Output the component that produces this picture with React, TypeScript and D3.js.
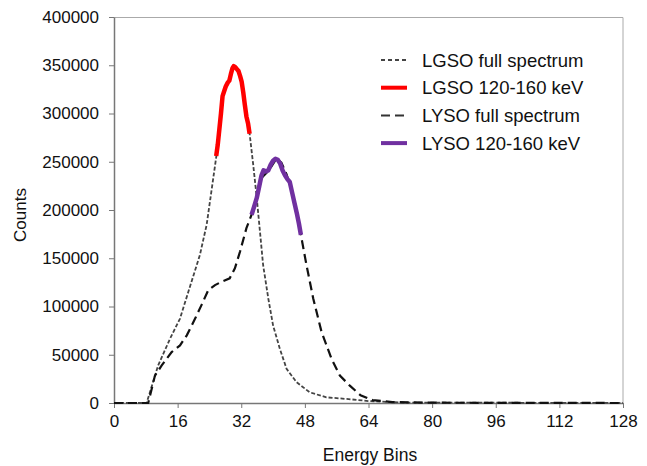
import React, { useEffect, useRef } from 'react';
import * as d3 from 'd3';

// LGSO full spectrum (bin, counts)
const lgsoBins = [0, 8.2, 11.1, 14.1, 16.6, 18.7, 21.6, 23.3, 24.5, 25.8, 27.4, 28.7, 30.0, 31.2, 32.0, 33.3, 34.1, 35.0, 35.9, 36.7, 37.5, 38.8, 40.0, 41.7, 43.4, 45.9, 49.2, 53.4, 58.5, 64, 72, 128];
const lgsoCounts = [0, 0, 38900, 66700, 87500, 115300, 153400, 184700, 219500, 257600, 320600, 331000, 348200, 344800, 334400, 296400, 279200, 247200, 212500, 177800, 143000, 108300, 80500, 56300, 35400, 21600, 11100, 5900, 4200, 2000, 500, 0];

// LGSO 120-160 keV window
const lgsoWinBins = [25.7, 26.1, 26.5, 26.9, 27.3, 27.7, 28.1, 28.6, 29.0, 29.4, 29.8, 30.1, 30.5, 30.9, 31.3, 31.7, 32.1, 32.5, 32.9, 33.3, 33.7, 34.1];
const lgsoWinCounts = [256000, 268000, 284000, 300000, 318000, 323000, 328000, 332000, 334000, 341000, 347000, 349000, 348000, 346000, 344000, 339000, 333000, 322000, 309000, 297000, 290000, 279000];

// LYSO full spectrum
const lysoBins = [0, 8.6, 10.3, 12.0, 14.5, 16.6, 18.3, 20.4, 22.0, 23.7, 25.4, 27.1, 29.1, 30.4, 31.7, 33.3, 34.6, 35.9, 37.1, 38.8, 40.9, 42.1, 43.4, 45.0, 46.3, 47.0, 48.4, 50.1, 52.2, 54.7, 56.8, 59.3, 62, 65, 70, 80, 128];
const lysoCounts = [0, 0, 28400, 38900, 52800, 59700, 70100, 87500, 101400, 117000, 122200, 125700, 129200, 139600, 157000, 181200, 195100, 212500, 233300, 240300, 253400, 249000, 236800, 216000, 191700, 174300, 143000, 108300, 73600, 45800, 28400, 18000, 8000, 3000, 1000, 300, 0];

// LYSO 120-160 keV window
const lysoWinBins = [34.6, 35.2, 35.9, 36.5, 37.1, 37.6, 38.2, 38.8, 39.4, 40.0, 40.6, 41.2, 41.8, 42.4, 43.0, 43.6, 44.2, 44.8, 45.4, 46.0, 46.5, 47.0];
const lysoWinCounts = [195100, 203000, 212500, 224000, 236000, 241000, 240000, 241000, 247000, 251000, 253000, 252000, 248000, 241000, 236000, 232000, 229000, 218000, 207000, 196000, 186000, 174300];

const xTicks = [0, 16, 32, 48, 64, 80, 96, 112, 128];
const yTicks = [0, 50000, 100000, 150000, 200000, 250000, 300000, 350000, 400000];

const legendItems = [
    { label: 'LGSO full spectrum', color: '#444', width: 1.8, dash: '4,3' },
    { label: 'LGSO 120-160 keV', color: '#ff0000', width: 4, dash: null },
    { label: 'LYSO full spectrum', color: '#333', width: 2, dash: '9,5' },
    { label: 'LYSO 120-160 keV', color: '#7030a0', width: 4, dash: null },
];

const W = 647;
const H = 466;
const FONT = 'Liberation Sans, Arial, sans-serif';

export default function App() {
    const ref = useRef<SVGSVGElement>(null);

    useEffect(() => {
        const margin = { top: 17, right: 24, bottom: 63, left: 114 };
        const w = W - margin.left - margin.right;
        const h = H - margin.top - margin.bottom;

        const svgRoot = d3.select(ref.current);
        svgRoot.selectAll('*').remove();
        const svg = svgRoot.append('g').attr('transform', 'translate(' + margin.left + ',' + margin.top + ')');

        const x = d3.scaleLinear().domain([0, 128]).range([0, w]);
        const y = d3.scaleLinear().domain([0, 400000]).range([h, 0]);

        // plot frame (top / right)
        svg.append('path')
            .attr('d', `M0,0.5H${w}V${h}`)
            .attr('fill', 'none')
            .attr('stroke', '#aaa')
            .attr('stroke-width', 1);

        const xAxis = svg.append('g')
            .attr('transform', 'translate(0,' + h + ')')
            .call(d3.axisBottom(x).tickValues(xTicks).tickSize(5).tickPadding(7).tickSizeOuter(0));
        const yAxis = svg.append('g')
            .call(d3.axisLeft(y).tickValues(yTicks).tickSize(5).tickPadding(10).tickSizeOuter(0).tickFormat(d3.format('d')));

        [xAxis, yAxis].forEach((g) => {
            g.select('.domain').attr('stroke', '#777').attr('stroke-width', 1.5);
            g.selectAll('.tick line').attr('stroke', '#777');
            g.selectAll('.tick text')
                .attr('font-family', FONT)
                .attr('font-size', 17)
                .attr('fill', '#111');
        });

        const line = d3.line<[number, number]>()
            .x((d) => x(d[0]))
            .y((d) => y(d[1]));

        const zip = (a: number[], b: number[]) => a.map((v, i) => [v, b[i]] as [number, number]);

        svg.append('path')
            .datum(zip(lgsoBins, lgsoCounts))
            .attr('fill', 'none')
            .attr('stroke', '#444')
            .attr('stroke-width', 1.8)
            .attr('stroke-dasharray', '4,2')
            .attr('d', line);

        svg.append('path')
            .datum(zip(lysoBins, lysoCounts))
            .attr('fill', 'none')
            .attr('stroke', '#111')
            .attr('stroke-width', 2.2)
            .attr('stroke-dasharray', '9,5')
            .attr('d', line);

        svg.append('path')
            .datum(zip(lgsoWinBins, lgsoWinCounts))
            .attr('fill', 'none')
            .attr('stroke', '#ff0000')
            .attr('stroke-width', 4.5)
            .attr('stroke-linejoin', 'round')
            .attr('d', line);

        svg.append('path')
            .datum(zip(lysoWinBins, lysoWinCounts))
            .attr('fill', 'none')
            .attr('stroke', '#7030a0')
            .attr('stroke-width', 4.5)
            .attr('stroke-linejoin', 'round')
            .attr('d', line);

        // legend
        const legend = svgRoot.append('g').attr('transform', 'translate(381,60)');
        legendItems.forEach((it, i) => {
            const row = legend.append('g').attr('transform', 'translate(0,' + i * 27.7 + ')');
            row.append('line')
                .attr('x1', 0).attr('x2', 26).attr('y1', 0).attr('y2', 0)
                .attr('stroke', it.color)
                .attr('stroke-width', it.width)
                .attr('stroke-dasharray', it.dash);
            row.append('text')
                .attr('x', 41)
                .attr('y', 6.5)
                .attr('font-family', FONT)
                .attr('font-size', 18.5)
                .attr('fill', '#111')
                .text(it.label);
        });

        // axis titles
        svgRoot.append('text')
            .attr('x', 370)
            .attr('y', 461)
            .attr('text-anchor', 'middle')
            .attr('font-family', FONT)
            .attr('font-size', 17.5)
            .attr('fill', '#111')
            .text('Energy Bins');

        svgRoot.append('text')
            .attr('transform', 'translate(26,215) rotate(-90)')
            .attr('text-anchor', 'middle')
            .attr('font-family', FONT)
            .attr('font-size', 17)
            .attr('fill', '#111')
            .text('Counts');
    }, []);

    return (
        <div style={{ position: 'fixed', top: 0, left: 0 }}>
            <svg ref={ref} width={W} height={H} style={{ display: 'block', background: '#fff' }} />
        </div>
    );
}
